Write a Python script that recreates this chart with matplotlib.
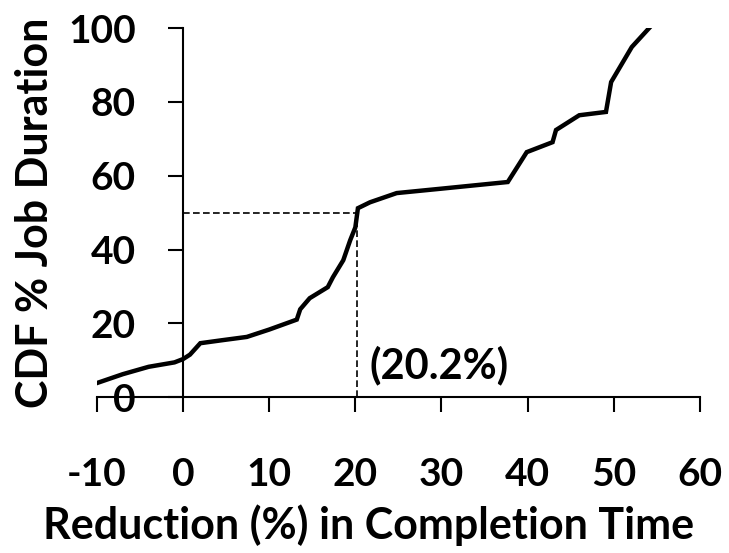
import matplotlib
matplotlib.use("Agg")
import matplotlib.pyplot as plt

# curve points
reduction = [-10, -7, -4, -1, 0, 0.8, 2, 4.5, 7.4, 10, 13.2, 13.6, 14.7, 16.8, 17.4,
             18.6, 19.4, 20.0, 20.3, 21.7, 24.8, 30, 37.7, 39.9, 42.9, 43.3, 46,
             49.1, 49.7, 52.1, 54.1]
cdf = [3.8, 6.2, 8.2, 9.4, 10.3, 11.5, 14.6, 15.4, 16.3, 18.3, 21.0, 23.8, 26.8, 29.8, 32.5,
       37.1, 42.5, 46.0, 51.2, 52.8, 55.3, 56.5, 58.3, 66.4, 69.1, 72.4, 76.4,
       77.3, 85.4, 94.9, 100]

median_x = 20.2
median_y = 50

xticks = [-10, 0, 10, 20, 30, 40, 50, 60]
yticks = [0, 20, 40, 60, 80, 100]

plt.rcParams['font.family'] = ['Lato', 'DejaVu Sans']
plt.rcParams['font.weight'] = 'bold'
plt.rcParams['axes.unicode_minus'] = False

fig = plt.figure(figsize=(7.29, 5.53), dpi=100)
ax = fig.add_axes([0.133, 0.282, 0.827, 0.667])

ax.plot(reduction, cdf, color='black', lw=3.2, solid_joinstyle='miter')
ax.plot([0, median_x], [median_y, median_y], color='black', lw=1.2, ls=(0, (4, 2)))
ax.plot([median_x, median_x], [0, median_y], color='black', lw=1.2, ls=(0, (4, 2)))
ax.text(21.7, 8.5, '(20.2%)', fontsize=30, fontweight='bold', va='center', ha='left')

ax.set_xlim(-10, 60)
ax.set_ylim(0, 100)
ax.spines['left'].set_position(('data', 0))
ax.spines['bottom'].set_position(('data', 0))
ax.spines['top'].set_visible(False)
ax.spines['right'].set_visible(False)
for s in ('left', 'bottom'):
    ax.spines[s].set_linewidth(1.5)

ax.set_xticks(xticks)
ax.set_yticks(yticks)
ax.tick_params(axis='x', direction='out', length=11, width=1.5, pad=32, labelsize=28)
ax.tick_params(axis='y', direction='out', length=11, width=1.5, pad=23, labelsize=28)
for lab in ax.get_xticklabels() + ax.get_yticklabels():
    lab.set_fontweight('bold')

fig.text(0.505, 0.05, 'Reduction (%) in Completion Time', ha='center', va='center',
         fontsize=31, fontweight='bold')
fig.text(0.048, 0.615, 'CDF % Job Duration', ha='center', va='center', rotation=90,
         fontsize=31, fontweight='bold')

fig.savefig('out.png', dpi=100)
